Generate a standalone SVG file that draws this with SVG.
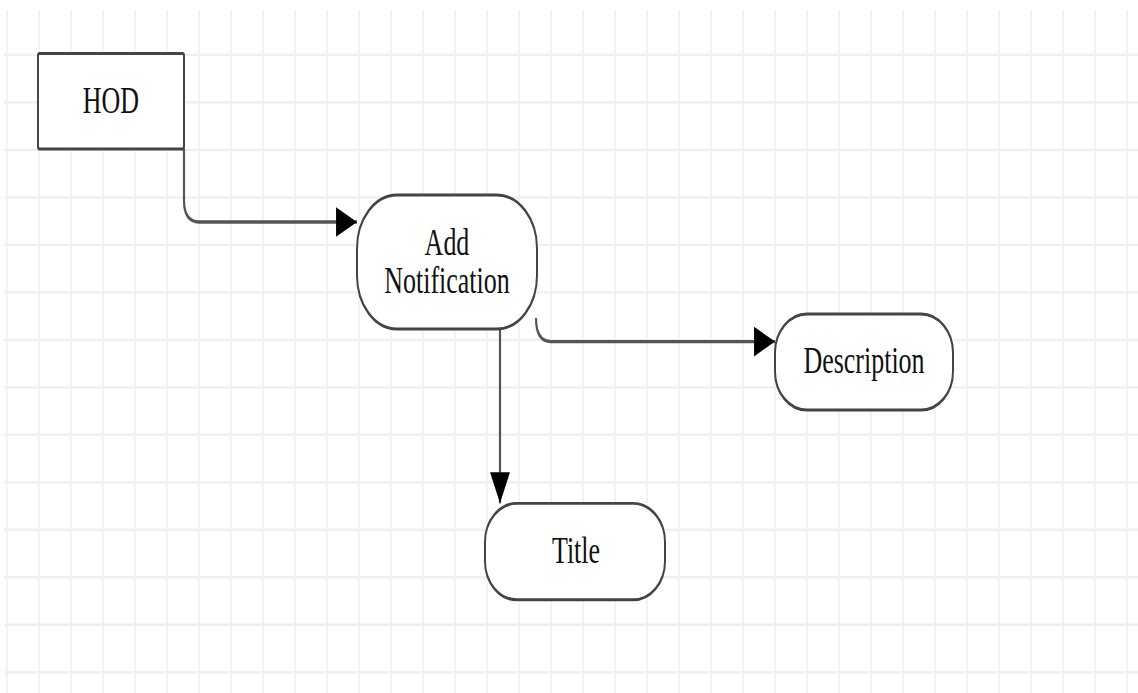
<svg xmlns="http://www.w3.org/2000/svg" width="1138" height="693" viewBox="0 0 1138 693">
  <style>
    .grid line { stroke: #f0f0f0; stroke-width: 1.6; }
    .node { fill: #ffffff; stroke: #444444; stroke-width: 2; }
    .label { font-family: "Liberation Serif", "Times New Roman", serif; font-size: 26px; fill: #111111; text-anchor: middle; }
    .edge { fill: none; stroke: #555555; stroke-width: 2.2; }
  </style>
  <defs>
    <marker id="arrow" markerUnits="userSpaceOnUse" markerWidth="22" markerHeight="22" viewBox="0 -10 21 20" refX="20" refY="0" orient="auto">
      <path d="M0,-9.5 L20,0 L0,9.5 Z" fill="#000000"/>
    </marker>
  </defs>
  <rect width="1138" height="693" fill="#ffffff"/>
  <!-- drawing is laid out on a 32-unit grid, stretched vertically -->
  <g transform="scale(1,1.484)">
    <g class="grid">
      <line x1="7" y1="6.7" x2="7" y2="467"/>
      <line x1="39" y1="6.7" x2="39" y2="467"/>
      <line x1="71" y1="6.7" x2="71" y2="467"/>
      <line x1="103" y1="6.7" x2="103" y2="467"/>
      <line x1="135" y1="6.7" x2="135" y2="467"/>
      <line x1="167" y1="6.7" x2="167" y2="467"/>
      <line x1="199" y1="6.7" x2="199" y2="467"/>
      <line x1="231" y1="6.7" x2="231" y2="467"/>
      <line x1="263" y1="6.7" x2="263" y2="467"/>
      <line x1="295" y1="6.7" x2="295" y2="467"/>
      <line x1="327" y1="6.7" x2="327" y2="467"/>
      <line x1="359" y1="6.7" x2="359" y2="467"/>
      <line x1="391" y1="6.7" x2="391" y2="467"/>
      <line x1="423" y1="6.7" x2="423" y2="467"/>
      <line x1="455" y1="6.7" x2="455" y2="467"/>
      <line x1="487" y1="6.7" x2="487" y2="467"/>
      <line x1="519" y1="6.7" x2="519" y2="467"/>
      <line x1="551" y1="6.7" x2="551" y2="467"/>
      <line x1="583" y1="6.7" x2="583" y2="467"/>
      <line x1="615" y1="6.7" x2="615" y2="467"/>
      <line x1="647" y1="6.7" x2="647" y2="467"/>
      <line x1="679" y1="6.7" x2="679" y2="467"/>
      <line x1="711" y1="6.7" x2="711" y2="467"/>
      <line x1="743" y1="6.7" x2="743" y2="467"/>
      <line x1="775" y1="6.7" x2="775" y2="467"/>
      <line x1="807" y1="6.7" x2="807" y2="467"/>
      <line x1="839" y1="6.7" x2="839" y2="467"/>
      <line x1="871" y1="6.7" x2="871" y2="467"/>
      <line x1="903" y1="6.7" x2="903" y2="467"/>
      <line x1="935" y1="6.7" x2="935" y2="467"/>
      <line x1="967" y1="6.7" x2="967" y2="467"/>
      <line x1="999" y1="6.7" x2="999" y2="467"/>
      <line x1="1031" y1="6.7" x2="1031" y2="467"/>
      <line x1="1063" y1="6.7" x2="1063" y2="467"/>
      <line x1="1095" y1="6.7" x2="1095" y2="467"/>
      <line x1="1127" y1="6.7" x2="1127" y2="467"/>
      <line x1="4" y1="37" x2="1138" y2="37"/>
      <line x1="4" y1="69" x2="1138" y2="69"/>
      <line x1="4" y1="101" x2="1138" y2="101"/>
      <line x1="4" y1="133" x2="1138" y2="133"/>
      <line x1="4" y1="165" x2="1138" y2="165"/>
      <line x1="4" y1="197" x2="1138" y2="197"/>
      <line x1="4" y1="229" x2="1138" y2="229"/>
      <line x1="4" y1="261" x2="1138" y2="261"/>
      <line x1="4" y1="293" x2="1138" y2="293"/>
      <line x1="4" y1="325" x2="1138" y2="325"/>
      <line x1="4" y1="357" x2="1138" y2="357"/>
      <line x1="4" y1="389" x2="1138" y2="389"/>
      <line x1="4" y1="421" x2="1138" y2="421"/>
      <line x1="4" y1="453" x2="1138" y2="453"/>
    </g>

    <g id="connectors">
      <path class="edge" d="M184,100.4 V135 Q184,149.6 199,149.6 H357" marker-end="url(#arrow)"/>
      <path class="edge" d="M536,214.3 Q536,230.2 551,230.2 H775" marker-end="url(#arrow)"/>
      <path class="edge" d="M500,221.7 V339.2" marker-end="url(#arrow)"/>
    </g>

    <g id="hod">
      <rect class="node" x="38" y="36" width="146" height="64.4" rx="1.5"/>
      <text class="label" x="111" y="76.1">HOD</text>
    </g>

    <g id="add-notification">
      <rect class="node" x="357" y="131.4" width="180" height="90.3" rx="40" ry="36"/>
      <text class="label" x="447" y="171.8">Add</text>
      <text class="label" x="447" y="197.4">Notification</text>
    </g>

    <g id="description">
      <rect class="node" x="775" y="211.6" width="178" height="64.7" rx="32" ry="26"/>
      <text class="label" x="864" y="251.6">Description</text>
    </g>

    <g id="title">
      <rect class="node" x="485" y="339.2" width="180" height="65" rx="32" ry="26"/>
      <text class="label" x="576" y="379.6">Title</text>
    </g>
  </g>
</svg>
